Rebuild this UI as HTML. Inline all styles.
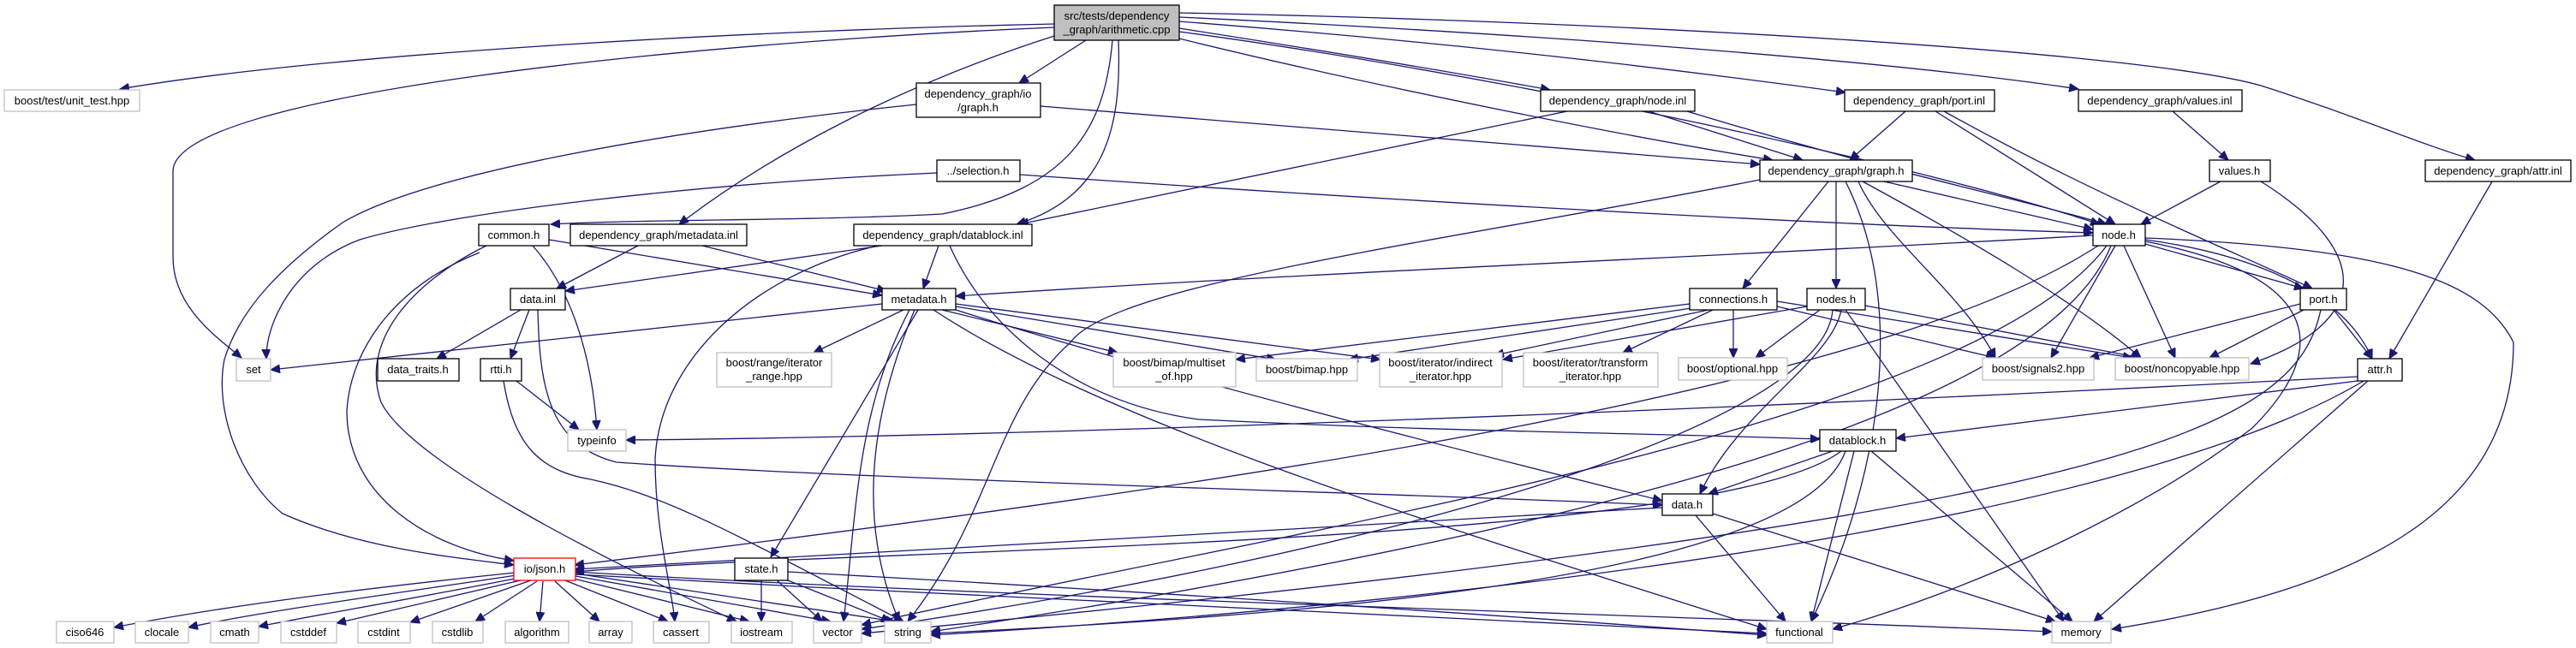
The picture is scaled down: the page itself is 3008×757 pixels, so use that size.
<!DOCTYPE html>
<html><head><meta charset="utf-8"><style>
html,body{margin:0;padding:0;background:#fff;}
svg{display:block;}
text{font-family:"Liberation Sans",Helvetica,sans-serif;font-size:13px;fill:#000;text-anchor:middle;}
.e{fill:none;stroke:#191970;stroke-width:1.3;marker-end:url(#a);}
.n{fill:#fff;stroke:#000;stroke-width:1.3;}
.g{fill:#fff;stroke:#bfbfbf;stroke-width:1.3;}
</style></head><body>
<svg width="3008" height="757" viewBox="0 0 3008 757" xmlns="http://www.w3.org/2000/svg">
<defs><marker id="a" markerUnits="userSpaceOnUse" markerWidth="12" markerHeight="10" refX="11" refY="5" orient="auto"><path d="M0,0 L11,5 L0,10 z" fill="#191970" stroke="#191970"/></marker></defs>
<g>
<path class="e" d="M1231,28 C900,35 400,60 140,104"/>
<path class="e" d="M1231,32 C800,50 202,110 202,200 L202,300 C202,360 255,395 282,418"/>
<path class="e" d="M1268,47 L1190,97"/>
<path class="e" d="M1299,47 C1290,150 1250,220 1100,250 C950,258 750,256 643,262"/>
<path class="e" d="M1231,42 C1050,100 900,180 793,262"/>
<path class="e" d="M1306,47 C1310,150 1290,230 1187,262"/>
<path class="e" d="M1377,20 C1800,40 2200,70 2427,104"/>
<path class="e" d="M1377,15 C1900,25 2500,60 2640,100 C2750,135 2830,170 2890,187"/>
<path class="e" d="M1377,25 C1700,50 1950,80 2155,108"/>
<path class="e" d="M1377,33 C1550,60 1700,85 1810,105"/>
<path class="e" d="M1377,45 C1600,100 1900,160 2070,187"/>
<path class="e" d="M1377,37 C1700,80 2200,180 2452,262"/>
<path class="e" d="M1070,122 C800,150 500,200 400,260 C330,310 280,360 262,420 C250,480 280,560 330,600 C420,640 520,650 600,660"/>
<path class="e" d="M1094,202 C800,215 520,250 420,280 C340,310 310,380 311,419"/>
<path class="e" d="M560,295 C470,330 410,400 405,480 C405,580 500,640 600,655"/>
<path class="e" d="M568,287 C480,330 420,400 445,470 C480,540 700,650 860,726"/>
<path class="e" d="M641,280 L1030,345"/>
<path class="e" d="M622,287 C660,330 690,400 697,502"/>
<path class="e" d="M745,287 L650,337"/>
<path class="e" d="M820,287 L1035,340"/>
<path class="e" d="M1096,287 L1078,337"/>
<path class="e" d="M1030,287 L660,340"/>
<path class="e" d="M1025,287 C880,320 770,420 765,537 C765,620 785,690 788,726"/>
<path class="e" d="M1109,287 C1150,380 1250,470 1400,490 C1700,505 1900,505 2125,513"/>
<path class="e" d="M608,362 L510,419"/>
<path class="e" d="M618,362 L596,419"/>
<path class="e" d="M628,362 C630,450 640,520 720,540 C1000,560 1600,575 1941,590"/>
<path class="e" d="M603,445 L676,502"/>
<path class="e" d="M588,445 C600,520 630,550 690,560 C780,580 850,620 1055,726"/>
<path class="e" d="M1030,355 L316,432"/>
<path class="e" d="M1055,362 L950,412"/>
<path class="e" d="M1100,362 L1305,412"/>
<path class="e" d="M1116,358 L1490,420"/>
<path class="e" d="M1116,355 L1612,420"/>
<path class="e" d="M1072,362 L900,651"/>
<path class="e" d="M1068,362 C1010,500 1005,620 1050,726"/>
<path class="e" d="M1062,362 C1000,480 1000,600 985,726"/>
<path class="e" d="M1090,362 C1300,500 1700,620 2063,735"/>
<path class="e" d="M1116,362 C1300,420 1600,500 1941,585"/>
<path class="e" d="M1830,130 L1190,262"/>
<path class="e" d="M1925,130 L2105,187"/>
<path class="e" d="M1970,130 C2200,200 2350,230 2460,262"/>
<path class="e" d="M2225,130 L2160,187"/>
<path class="e" d="M2260,130 L2470,262"/>
<path class="e" d="M2270,130 C2450,230 2600,290 2700,337"/>
<path class="e" d="M2537,130 L2602,187"/>
<path class="e" d="M2593,212 L2500,262"/>
<path class="e" d="M2640,212 C2780,300 2760,380 2628,425"/>
<path class="e" d="M2910,212 L2790,419"/>
<path class="e" d="M1215,124 L2055,192"/>
<path class="e" d="M1191,204 C1700,240 2200,265 2444,272"/>
<path class="e" d="M2135,212 L2035,337"/>
<path class="e" d="M2144,212 L2144,337"/>
<path class="e" d="M2200,212 L2444,268"/>
<path class="e" d="M2170,212 C2200,280 2290,340 2330,418"/>
<path class="e" d="M2175,212 C2300,280 2420,350 2500,418"/>
<path class="e" d="M2155,212 C2225,350 2200,550 2115,726"/>
<path class="e" d="M2055,210 C1700,280 1300,330 1250,400 C1160,480 1160,600 1060,726"/>
<path class="e" d="M2444,275 C2000,300 1500,320 1116,346"/>
<path class="e" d="M2505,285 L2690,337"/>
<path class="e" d="M2505,280 C2650,300 2740,350 2770,419"/>
<path class="e" d="M2470,287 L2395,418"/>
<path class="e" d="M2480,287 L2540,418"/>
<path class="e" d="M2505,278 C2800,290 2900,330 2935,400 C2935,600 2750,690 2466,735"/>
<path class="e" d="M2505,282 C2700,320 2730,400 2630,500 C2500,600 2300,690 2140,735"/>
<path class="e" d="M2450,287 C2200,450 1500,560 671,660"/>
<path class="e" d="M2460,287 C2300,500 1500,620 1006,730"/>
<path class="e" d="M2465,287 C2400,450 2000,600 1087,738"/>
<path class="e" d="M2686,355 L2440,418"/>
<path class="e" d="M2690,362 L2580,418"/>
<path class="e" d="M2725,362 L2770,419"/>
<path class="e" d="M2710,362 C2680,500 2500,600 1006,740"/>
<path class="e" d="M2753,440 C2000,480 1200,510 731,514"/>
<path class="e" d="M2753,445 L2214,512"/>
<path class="e" d="M2765,445 L2445,726"/>
<path class="e" d="M2760,445 C2500,600 1800,700 1087,742"/>
<path class="e" d="M1973,355 L1443,420"/>
<path class="e" d="M1975,360 L1575,420"/>
<path class="e" d="M1995,362 L1745,415"/>
<path class="e" d="M2000,362 L1895,412"/>
<path class="e" d="M2024,362 L2024,418"/>
<path class="e" d="M2075,358 L2330,418"/>
<path class="e" d="M2075,352 L2490,418"/>
<path class="e" d="M2110,358 L1755,420"/>
<path class="e" d="M2125,362 L2050,418"/>
<path class="e" d="M2178,357 L2500,418"/>
<path class="e" d="M2150,362 C2140,420 2030,480 1985,577"/>
<path class="e" d="M2155,362 L2410,726"/>
<path class="e" d="M2140,362 C2130,500 1600,650 1006,735"/>
<path class="e" d="M2140,527 L1995,577"/>
<path class="e" d="M2150,527 C2000,640 1000,640 671,668"/>
<path class="e" d="M2185,527 L2420,726"/>
<path class="e" d="M2165,527 L2115,726"/>
<path class="e" d="M2155,527 C2100,680 1500,720 1087,740"/>
<path class="e" d="M1941,593 C1500,620 900,650 671,665"/>
<path class="e" d="M1980,602 L2085,726"/>
<path class="e" d="M2000,600 L2400,726"/>
<path class="e" d="M601,669 C400,690 250,710 133,733"/>
<path class="e" d="M603,672 C450,695 300,715 220,733"/>
<path class="e" d="M606,675 C480,700 360,720 302,732"/>
<path class="e" d="M612,677 L393,728"/>
<path class="e" d="M620,678 L479,727"/>
<path class="e" d="M627,679 L555,726"/>
<path class="e" d="M634,679 L630,726"/>
<path class="e" d="M648,679 L700,726"/>
<path class="e" d="M660,678 L780,726"/>
<path class="e" d="M670,676 L875,726"/>
<path class="e" d="M672,673 L970,726"/>
<path class="e" d="M672,670 L1045,726"/>
<path class="e" d="M671,668 C1200,700 2000,720 2396,738"/>
<path class="e" d="M671,671 C1200,700 1800,730 2063,740"/>
<path class="e" d="M889,676 L889,726"/>
<path class="e" d="M905,676 L960,726"/>
<path class="e" d="M915,676 L1040,726"/>
<path class="e" d="M920,668 C1500,700 1900,730 2063,742"/>
</g>
<g>
<rect x="1231" y="6" width="146" height="41" fill="#bfbfbf" stroke="#000" stroke-width="1.3"/>
<text x="1304" y="23">src/tests/dependency</text><text x="1304" y="39">_graph/arithmetic.cpp</text>
<rect class="g" x="5" y="105" width="158" height="25"/><text x="84" y="122">boost/test/unit_test.hpp</text>
<rect class="n" x="1070" y="97" width="145" height="40"/><text x="1142" y="114">dependency_graph/io</text><text x="1142" y="130">/graph.h</text>
<rect class="n" x="1094" y="187" width="97" height="25"/><text x="1142" y="204">../selection.h</text>
<rect class="n" x="1799" y="105" width="180" height="25"/><text x="1889" y="122">dependency_graph/node.inl</text>
<rect class="n" x="2154" y="105" width="175" height="25"/><text x="2241" y="122">dependency_graph/port.inl</text>
<rect class="n" x="2427" y="105" width="191" height="25"/><text x="2522" y="122">dependency_graph/values.inl</text>
<rect class="n" x="2055" y="187" width="178" height="25"/><text x="2144" y="204">dependency_graph/graph.h</text>
<rect class="n" x="2580" y="187" width="71" height="25"/><text x="2615" y="204">values.h</text>
<rect class="n" x="2832" y="187" width="170" height="25"/><text x="2917" y="204">dependency_graph/attr.inl</text>
<rect class="n" x="559" y="262" width="82" height="25"/><text x="600" y="279">common.h</text>
<rect class="n" x="666" y="262" width="206" height="25"/><text x="769" y="279">dependency_graph/metadata.inl</text>
<rect class="n" x="997" y="262" width="208" height="25"/><text x="1101" y="279">dependency_graph/datablock.inl</text>
<rect class="n" x="2444" y="262" width="61" height="25"/><text x="2474" y="279">node.h</text>
<rect class="n" x="596" y="337" width="64" height="25"/><text x="628" y="354">data.inl</text>
<rect class="n" x="1030" y="337" width="86" height="25"/><text x="1073" y="354">metadata.h</text>
<rect class="n" x="1973" y="337" width="102" height="25"/><text x="2024" y="354">connections.h</text>
<rect class="n" x="2110" y="337" width="68" height="25"/><text x="2144" y="354">nodes.h</text>
<rect class="n" x="2686" y="337" width="54" height="25"/><text x="2713" y="354">port.h</text>
<rect class="g" x="276" y="419" width="40" height="26"/><text x="296" y="436">set</text>
<rect class="n" x="441" y="419" width="95" height="26"/><text x="488" y="436">data_traits.h</text>
<rect class="n" x="561" y="419" width="48" height="26"/><text x="585" y="436">rtti.h</text>
<rect class="g" x="837" y="412" width="134" height="40"/><text x="904" y="428">boost/range/iterator</text><text x="904" y="444">_range.hpp</text>
<rect class="g" x="1300" y="412" width="143" height="40"/><text x="1371" y="428">boost/bimap/multiset</text><text x="1371" y="444">_of.hpp</text>
<rect class="g" x="1467" y="419" width="118" height="26"/><text x="1526" y="436">boost/bimap.hpp</text>
<rect class="g" x="1611" y="412" width="143" height="40"/><text x="1682" y="428">boost/iterator/indirect</text><text x="1682" y="444">_iterator.hpp</text>
<rect class="g" x="1779" y="412" width="157" height="40"/><text x="1857" y="428">boost/iterator/transform</text><text x="1857" y="444">_iterator.hpp</text>
<rect class="g" x="1960" y="418" width="127" height="26"/><text x="2023" y="435">boost/optional.hpp</text>
<rect class="g" x="2315" y="418" width="130" height="26"/><text x="2380" y="435">boost/signals2.hpp</text>
<rect class="g" x="2470" y="418" width="156" height="26"/><text x="2548" y="435">boost/noncopyable.hpp</text>
<rect class="n" x="2753" y="419" width="52" height="26"/><text x="2779" y="436">attr.h</text>
<rect class="g" x="663" y="502" width="68" height="25"/><text x="697" y="519">typeinfo</text>
<rect class="n" x="2125" y="502" width="89" height="25"/><text x="2169" y="519">datablock.h</text>
<rect class="n" x="1941" y="577" width="59" height="25"/><text x="1970" y="594">data.h</text>
<rect x="600" y="652" width="72" height="26" fill="#fff" stroke="#ff0000" stroke-width="1.3"/><text x="636" y="669">io/json.h</text>
<rect class="n" x="858" y="652" width="62" height="26"/><text x="889" y="669">state.h</text>
<rect class="g" x="66" y="726" width="67" height="25"/><text x="99" y="743">ciso646</text>
<rect class="g" x="158" y="726" width="62" height="25"/><text x="189" y="743">clocale</text>
<rect class="g" x="246" y="726" width="56" height="25"/><text x="274" y="743">cmath</text>
<rect class="g" x="328" y="726" width="65" height="25"/><text x="360" y="743">cstddef</text>
<rect class="g" x="418" y="726" width="61" height="25"/><text x="448" y="743">cstdint</text>
<rect class="g" x="505" y="726" width="59" height="25"/><text x="534" y="743">cstdlib</text>
<rect class="g" x="590" y="726" width="74" height="25"/><text x="627" y="743">algorithm</text>
<rect class="g" x="688" y="726" width="50" height="25"/><text x="713" y="743">array</text>
<rect class="g" x="763" y="726" width="65" height="25"/><text x="795" y="743">cassert</text>
<rect class="g" x="854" y="726" width="71" height="25"/><text x="889" y="743">iostream</text>
<rect class="g" x="950" y="726" width="56" height="25"/><text x="978" y="743">vector</text>
<rect class="g" x="1033" y="726" width="54" height="25"/><text x="1060" y="743">string</text>
<rect class="g" x="2063" y="726" width="77" height="25"/><text x="2101" y="743">functional</text>
<rect class="g" x="2396" y="726" width="69" height="25"/><text x="2430" y="743">memory</text>
</g>
</svg>
</body></html>
